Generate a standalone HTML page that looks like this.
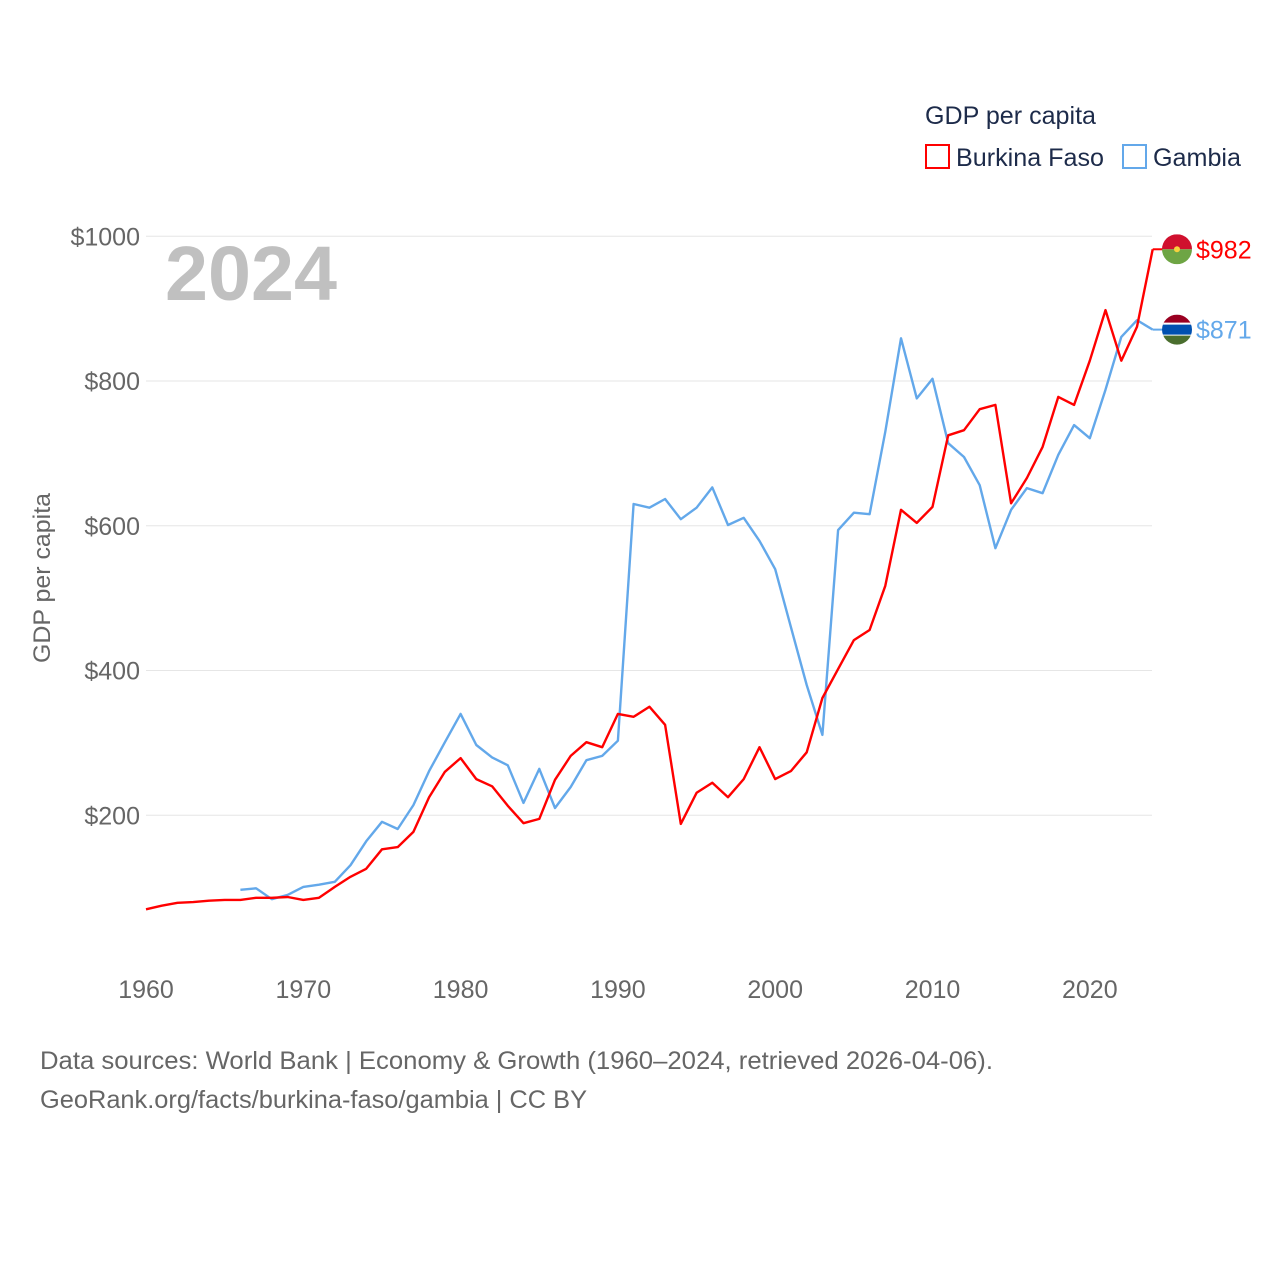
<!DOCTYPE html>
<html><head><meta charset="utf-8">
<style>
html,body{margin:0;padding:0;background:#fff;}
body{width:1280px;height:1280px;overflow:hidden;font-family:"Liberation Sans",sans-serif;}
svg text{font-family:"Liberation Sans",sans-serif;}
</style></head>
<body>
<svg id="chart" width="1280" height="1280" viewBox="0 0 1280 1280" xmlns="http://www.w3.org/2000/svg">
<g id="grid"></g>
<g id="yticks"></g>
<g id="xticks"></g>
<text x="165" y="300" font-size="77" font-weight="bold" fill="#c0c0c0" textLength="172" lengthAdjust="spacingAndGlyphs">2024</text>
<text transform="translate(50,578) rotate(-90)" text-anchor="middle" font-size="24" fill="#666" textLength="170" lengthAdjust="spacingAndGlyphs">GDP per capita</text>
<g id="series"></g>
<g>
<text x="925" y="124" font-size="25" fill="#1d2b4a" textLength="171" lengthAdjust="spacingAndGlyphs">GDP per capita</text>
<rect x="926" y="145" width="23" height="23" fill="none" stroke="#ff0000" stroke-width="2"/>
<text x="956" y="166" font-size="25" fill="#1d2b4a" textLength="148" lengthAdjust="spacingAndGlyphs">Burkina Faso</text>
<rect x="1123" y="145" width="23" height="23" fill="none" stroke="#63a8ea" stroke-width="2"/>
<text x="1153" y="166" font-size="25" fill="#1d2b4a" textLength="88" lengthAdjust="spacingAndGlyphs">Gambia</text>
</g>
<g id="endlabels"></g>
<text x="40" y="1069" font-size="25" fill="#666" textLength="953" lengthAdjust="spacingAndGlyphs">Data sources: World Bank | Economy &amp; Growth (1960–2024, retrieved 2026-04-06).</text>
<text x="40" y="1108" font-size="25" fill="#666" textLength="547" lengthAdjust="spacingAndGlyphs">GeoRank.org/facts/burkina-faso/gambia | CC BY</text>
</svg>
<script>
const yearsBF = [1960,1961,1962,1963,1964,1965,1966,1967,1968,1969,1970,1971,1972,1973,1974,1975,1976,1977,1978,1979,1980,1981,1982,1983,1984,1985,1986,1987,1988,1989,1990,1991,1992,1993,1994,1995,1996,1997,1998,1999,2000,2001,2002,2003,2004,2005,2006,2007,2008,2009,2010,2011,2012,2013,2014,2015,2016,2017,2018,2019,2020,2021,2022,2023,2024];
const valuesBF = [70,75,79,80,82,83,83,86,86,87,83,86,101,115,126,153,156,177,225,260,279,250,240,213,189,195,249,282,301,294,340,336,350,325,188,231,245,225,250,294,250,261,287,362,402,442,456,517,622,604,626,725,732,761,767,631,666,709,778,767,828,898,828,875,982];
const yearsGM = [1966,1967,1968,1969,1970,1971,1972,1973,1974,1975,1976,1977,1978,1979,1980,1981,1982,1983,1984,1985,1986,1987,1988,1989,1990,1991,1992,1993,1994,1995,1996,1997,1998,1999,2000,2001,2002,2003,2004,2005,2006,2007,2008,2009,2010,2011,2012,2013,2014,2015,2016,2017,2018,2019,2020,2021,2022,2023,2024];
const valuesGM = [97,99,84,90,101,104,108,131,164,191,181,214,261,301,340,297,280,269,217,264,210,239,276,282,303,630,625,637,609,625,653,601,611,579,540,460,380,311,594,618,616,730,859,776,803,714,695,656,569,622,652,645,698,739,721,788,861,884,871];
const yTicks = [200,400,600,800,1000];
const xTicks = [1960,1970,1980,1990,2000,2010,2020];
const NS="http://www.w3.org/2000/svg";
const xS = y => 146 + (y-1960)*15.73;
const yS = v => 960 - v*0.72375;
function mk(tag, attrs, parent){const e=document.createElementNS(NS,tag);for(const k in attrs)e.setAttribute(k,attrs[k]);parent.appendChild(e);return e;}
const grid=document.getElementById('grid'), yt=document.getElementById('yticks'), xt=document.getElementById('xticks');
yTicks.forEach(v=>{
  const l=mk('line',{x1:146,x2:1152,y1:yS(v),y2:yS(v),stroke:'#e6e6e6','stroke-width':1},grid);
  
  
  const t=mk('text',{x:140,y:yS(v)+9,'text-anchor':'end','font-size':25,fill:'#666'},yt);
  
  
  t.textContent='$'+v;
});
xTicks.forEach(y=>{
  const t=mk('text',{x:xS(y),y:998,'text-anchor':'middle','font-size':25,fill:'#666'},xt);
  
  
  t.textContent=y;
});
const ser=document.getElementById('series');
function line(years, vals, color, name){
  const d=years.map((y,i)=>(i?'L':'M')+xS(y).toFixed(1)+','+yS(vals[i]).toFixed(1)).join(' ');
  const p=mk('path',{d:d,fill:'none',stroke:color,'stroke-width':2.4,'stroke-linejoin':'round'},ser);
  
  
}
line(yearsGM, valuesGM, '#63a8ea', 'line-gambia');
line(yearsBF, valuesBF, '#ff0000', 'line-burkina-faso');
const el=document.getElementById('endlabels');
function endLabel(v,color,name,flag){
  const y=yS(v), x0=xS(2024);
  const ln=mk('line',{x1:x0,x2:x0+10,y1:y,y2:y,stroke:color,'stroke-width':2},el);
  
  
  const g=mk('g',{},el);
  
  
  const cx=1177, r=15;
  const clipId='clip-'+name;
  const cp=mk('clipPath',{id:clipId},g); mk('circle',{cx:cx,cy:y,r:r},cp);
  const gg=mk('g',{'clip-path':'url(#'+clipId+')'},g);
  if(flag==='bf'){
    mk('rect',{x:cx-r,y:y-r,width:2*r,height:r,fill:'#d0102e'},gg);
    mk('rect',{x:cx-r,y:y,width:2*r,height:r,fill:'#6ea544'},gg);
    mk('circle',{cx:cx,cy:y,r:3,fill:'#f7d13e'},gg);
  } else {
    mk('rect',{x:cx-r,y:y-r,width:2*r,height:2*r/3,fill:'#9a0021'},gg);
    mk('rect',{x:cx-r,y:y-r/3-2,width:2*r,height:2*r/3+4,fill:'#fff'},gg);
    mk('rect',{x:cx-r,y:y-r/3,width:2*r,height:2*r/3,fill:'#0050b0'},gg);
    mk('rect',{x:cx-r,y:y+r/3+1,width:2*r,height:2*r/3,fill:'#4a6e2e'},gg);
  }
  const t=mk('text',{x:1196,y:y+9,'font-size':25,fill:color},el);
  
  
  t.textContent='$'+v;
}
endLabel(valuesBF[valuesBF.length-1],'#ff0000','end-label-burkina-faso','bf');
endLabel(valuesGM[valuesGM.length-1],'#63a8ea','end-label-gambia','gm');
</script>
</body></html>
